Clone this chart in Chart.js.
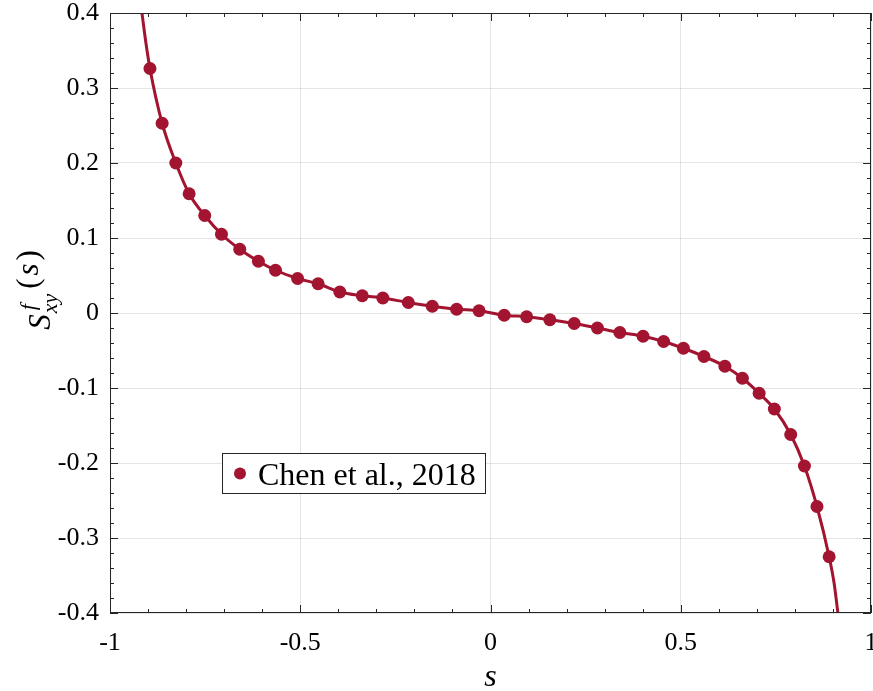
<!DOCTYPE html>
<html>
<head>
<meta charset="utf-8">
<script src="https://cdn.jsdelivr.net/npm/chart.js@4.4.0/dist/chart.umd.min.js"></script>
<style>
    html, body { margin: 0; padding: 0; background: #fff; }
    #wrap { width: 873px; height: 691px; position: relative; }
</style>
</head>
<body>
<div id="wrap"><canvas id="chart"></canvas></div>
<script>
// Datos (Chen et al., 2018)
const chenS = [-0.895, -0.863, -0.827, -0.792, -0.751, -0.707, -0.659, -0.610, -0.565, -0.507,
               -0.453, -0.396, -0.337, -0.283, -0.216, -0.153, -0.089, -0.030, 0.036, 0.095,
               0.156, 0.220, 0.281, 0.340, 0.401, 0.455, 0.507, 0.561, 0.616, 0.662,
               0.706, 0.746, 0.789, 0.825, 0.858, 0.890];
const chenSxy = [0.326, 0.253, 0.200, 0.159, 0.130, 0.105, 0.085, 0.069, 0.057, 0.046,
                 0.039, 0.028, 0.023, 0.020, 0.014, 0.009, 0.005, 0.003, -0.003, -0.005,
                 -0.009, -0.014, -0.020, -0.026, -0.031, -0.038, -0.047, -0.058, -0.071, -0.087,
                 -0.107, -0.128, -0.162, -0.204, -0.258, -0.325];

// Curva continua (pasa por los puntos y sale por los bordes)
const curveS = [-0.916, -0.905, -0.895, -0.863, -0.827, -0.792, -0.751, -0.707, -0.659, -0.610,
                -0.565, -0.507, -0.453, -0.396, -0.337, -0.283, -0.216, -0.153, -0.089, -0.030,
                0.036, 0.095, 0.156, 0.220, 0.281, 0.340, 0.401, 0.455, 0.507, 0.561,
                0.616, 0.662, 0.706, 0.746, 0.789, 0.825, 0.858, 0.890, 0.903, 0.913];
const curveSxy = [0.400, 0.358, 0.326, 0.253, 0.200, 0.159, 0.130, 0.105, 0.085, 0.069,
                  0.057, 0.046, 0.039, 0.028, 0.023, 0.020, 0.014, 0.009, 0.005, 0.003,
                  -0.003, -0.005, -0.009, -0.014, -0.020, -0.026, -0.031, -0.038, -0.047, -0.058,
                  -0.071, -0.087, -0.107, -0.128, -0.162, -0.204, -0.258, -0.325, -0.360, -0.400];

const xTicks = [-1, -0.5, 0, 0.5, 1];
const yTicks = [-0.4, -0.3, -0.2, -0.1, 0, 0.1, 0.2, 0.3, 0.4];
const legendLabel = 'Chen et al., 2018';

// Colores y fuentes
const colors = {
    series: '#a2142f',
    axis: '#262626',
    grid: 'rgba(38, 38, 38, 0.12)'
};
const serif = "'Liberation Serif', 'Times New Roman', serif";
const noPadding = () => ({ left: 0, top: 0, right: 0, bottom: 0 });

// Marco, ticks hacia dentro, leyenda y etiqueta del eje y
const framePlugin = {
    id: 'frame',
    afterDraw(chart) {
        const { ctx, chartArea: a, scales: { x, y } } = chart;
        ctx.save();
        ctx.strokeStyle = colors.axis;
        ctx.lineWidth = 1;
        ctx.beginPath();
        for (let i = -10; i <= 10; i++) {
            const px = Math.round(x.getPixelForValue(i / 10)) + 0.5;
            const len = i % 5 === 0 ? 8 : 4;
            ctx.moveTo(px, a.bottom); ctx.lineTo(px, a.bottom - len);
            ctx.moveTo(px, a.top); ctx.lineTo(px, a.top + len);
        }
        for (let i = -20; i <= 20; i++) {
            const py = Math.round(y.getPixelForValue(i / 50)) + 0.5;
            const len = i % 5 === 0 ? 8 : 4;
            ctx.moveTo(a.left, py); ctx.lineTo(a.left + len, py);
            ctx.moveTo(a.right, py); ctx.lineTo(a.right - len, py);
        }
        ctx.stroke();
        ctx.strokeRect(Math.round(a.left) + 0.5, Math.round(a.top) + 0.5,
                       Math.round(a.right - a.left) - 1, Math.round(a.bottom - a.top) - 1);

        // Leyenda
        ctx.fillStyle = '#fff';
        ctx.fillRect(222, 453, 264, 41);
        ctx.strokeStyle = colors.axis;
        ctx.strokeRect(222.5, 453.5, 263, 40);
        ctx.fillStyle = colors.series;
        ctx.beginPath();
        ctx.arc(240, 473.5, 6, 0, Math.PI * 2);
        ctx.fill();
        ctx.fillStyle = '#000';
        ctx.font = `32px ${serif}`;
        ctx.textBaseline = 'alphabetic';
        ctx.textAlign = 'left';
        ctx.fillText(legendLabel, 258, 485);

        // Título eje x
        ctx.font = `italic 32px ${serif}`;
        ctx.textAlign = 'center';
        ctx.fillText('s', (a.left + a.right) / 2, 686);

        // Título eje y: S^f_{xy}(s)
        ctx.translate(50, 290);
        ctx.rotate(-Math.PI / 2);
        ctx.textAlign = 'left';
        const parts = [
            { t: 'S', f: `italic 31px ${serif}`, dy: 0, gap: 1 },
            { t: 'f', f: `italic 22px ${serif}`, dy: -15, gap: 0, sup: true },
            { t: 'xy', f: `italic 22px ${serif}`, dy: 7, gap: 5 },
            { t: '(', f: `31px ${serif}`, dy: -12, gap: 3 },
            { t: 's', f: `italic 31px ${serif}`, dy: -12, gap: 3 },
            { t: ')', f: `31px ${serif}`, dy: -12, gap: 0 }
        ];
        let total = 0;
        const widths = parts.map(p => { ctx.font = p.f; return ctx.measureText(p.t).width; });
        parts.forEach((p, i) => { if (!p.sup) total += widths[i] + p.gap; });
        let u = -total / 2;
        parts.forEach((p, i) => {
            ctx.font = p.f;
            ctx.fillText(p.t, u + (p.sup ? 3 : 0), p.dy);
            if (!p.sup) u += widths[i] + p.gap;
        });
        ctx.restore();
    }
};

const ctx = document.getElementById('chart').getContext('2d');
new Chart(ctx, {
    type: 'scatter',
    data: {
        datasets: [
            {
                label: 'curve',
                type: 'line',
                data: curveS.map((s, i) => ({ x: s, y: curveSxy[i] })),
                borderColor: colors.series,
                borderWidth: 3,
                pointRadius: 0,
                cubicInterpolationMode: 'monotone',
                fill: false,
                order: 2
            },
            {
                label: legendLabel,
                data: chenS.map((s, i) => ({ x: s, y: chenSxy[i] })),
                backgroundColor: colors.series,
                borderWidth: 0,
                pointRadius: 6.5,
                order: 1
            }
        ]
    },
    options: {
        responsive: true,
        maintainAspectRatio: false,
        animation: false,
        layout: { autoPadding: false, padding: { top: 13, right: 2, left: 0, bottom: 0 } },
        plugins: {
            legend: { display: false },
            tooltip: { enabled: false }
        },
        scales: {
            x: {
                type: 'linear',
                min: -1,
                max: 1,
                afterBuildTicks: scale => { scale.ticks = xTicks.map(v => ({ value: v })); },
                afterFit: scale => { scale.height = 78; scale.getPadding = noPadding; },
                grid: { color: colors.grid, drawTicks: false },
                border: { display: false },
                ticks: {
                    color: '#000',
                    padding: 17,
                    maxRotation: 0,
                    font: { family: serif, size: 26, lineHeight: 1 },
                    callback: v => String(v)
                }
            },
            y: {
                type: 'linear',
                min: -0.4,
                max: 0.4,
                afterBuildTicks: scale => { scale.ticks = yTicks.map(v => ({ value: v })); },
                afterFit: scale => { scale.width = 110; scale.getPadding = noPadding; },
                grid: { color: colors.grid, drawTicks: false },
                border: { display: false },
                ticks: {
                    color: '#000',
                    padding: 11,
                    font: { family: serif, size: 26, lineHeight: 1 },
                    callback: v => String(v)
                }
            }
        }
    },
    plugins: [framePlugin]
});
</script>
</body>
</html>
